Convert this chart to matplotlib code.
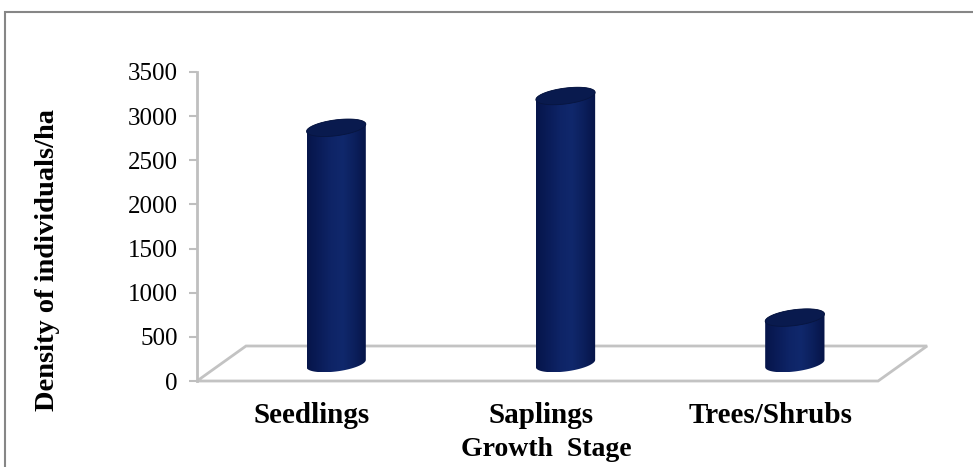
import numpy as np
import matplotlib
matplotlib.use("Agg")
import matplotlib.pyplot as plt
from matplotlib.patches import Polygon, Rectangle
from matplotlib.colors import LinearSegmentedColormap

# data
stages = ["Seedlings", "Saplings", "Trees/Shrubs"]
density = [2670, 3030, 520]
y_ticks = [0, 500, 1000, 1500, 2000, 2500, 3000, 3500]

plt.rcParams['font.family'] = ['Liberation Serif', 'DejaVu Serif']

W, H = 973, 467
fig = plt.figure(figsize=(W / 100, H / 100), dpi=100)

# outer chart frame (runs off the right and bottom edges)
fig.patches.append(Rectangle((4.5 / W, -0.1), 1.2, 1.1 - 11.5 / H,
                             transform=fig.transFigure, fill=False,
                             edgecolor='#868686', lw=1.5))

# axes box in pixels
ax_l, ax_r, ax_t, ax_b = 197, 885, 72, 381
ax = fig.add_axes([ax_l / W, (H - ax_b) / H, (ax_r - ax_l) / W, (ax_b - ax_t) / H])
xmin, xmax, ymax = -0.5, 2.5, 3500
ux = (ax_r - ax_l) / (xmax - xmin)   # px per x unit
uy = (ax_b - ax_t) / ymax            # px per y unit

# oblique depth of the floor
ddx, ddy = 49 / ux, 35 / uy

floor = Polygon([(xmin, 0), (2.47, 0), (2.47 + ddx, ddy), (xmin + ddx, ddy)],
                closed=True, fill=False, edgecolor='#c3c3c3', lw=2, zorder=1,
                clip_on=False)
ax.add_patch(floor)

cyl_cmap = LinearSegmentedColormap.from_list(
    "cyl", ['#06154a', '#0a1c58', '#0e2466', '#10286c', '#0b1f5c', '#061447'])

# cylinder cross-section (pixels): half width and depth vector
a_px = 27
dep_px = (12.25, 8.75)
ex = np.array([a_px / ux, 0.0])
ed = np.array([dep_px[0] / ux, dep_px[1] / uy])
t_r = np.arctan2(dep_px[0], a_px)


def ell(c, t):
    return c[None, :] + np.cos(t)[:, None] * ex[None, :] + np.sin(t)[:, None] * ed[None, :]


for i, v in enumerate(density):
    base = np.array([i + ddx / 2, ddy / 2])
    top = base + np.array([0, v])
    back_arc = ell(top, np.linspace(t_r, t_r + np.pi, 60))
    front_arc = ell(base, np.linspace(t_r + np.pi, t_r + 2 * np.pi, 60))
    pts = np.vstack([back_arc, front_arc])
    body = Polygon(pts, closed=True, facecolor='none', edgecolor='none')
    ax.add_patch(body)
    im = ax.imshow(np.linspace(0, 1, 256)[None, :], cmap=cyl_cmap, aspect='auto',
                   extent=(pts[:, 0].min(), pts[:, 0].max(), pts[:, 1].min(), pts[:, 1].max()),
                   zorder=2, interpolation='bilinear')
    im.set_clip_path(body)
    cap = Polygon(ell(top, np.linspace(0, 2 * np.pi, 120)), closed=True,
                  facecolor='#091a4e', edgecolor='#07153f', lw=0.6, zorder=3)
    ax.add_patch(cap)

ax.set_xlim(xmin, xmax)
ax.set_ylim(0, ymax)
ax.set_facecolor('none')
for side in ['top', 'right', 'bottom']:
    ax.spines[side].set_visible(False)
ax.spines['left'].set_color('#bfbfbf')
ax.spines['left'].set_linewidth(2)

ax.set_yticks(y_ticks)
ax.tick_params(axis='y', length=6, width=1.5, color='#bfbfbf', pad=8, labelsize=18)
ax.set_xticks(range(len(stages)))
ax.set_xticklabels(stages, fontsize=21, fontweight='bold')
ax.tick_params(axis='x', length=0, pad=15)

ax.set_xlabel("Growth  Stage", fontsize=20, fontweight='bold')
ax.xaxis.set_label_coords(0.507, -0.18)
ax.text(-0.2166, 0.392, "Density of individuals/ha", transform=ax.transAxes,
        rotation=90, ha='center', va='center', fontsize=20.5, fontweight='bold')

fig.savefig("out.png", dpi=100)
